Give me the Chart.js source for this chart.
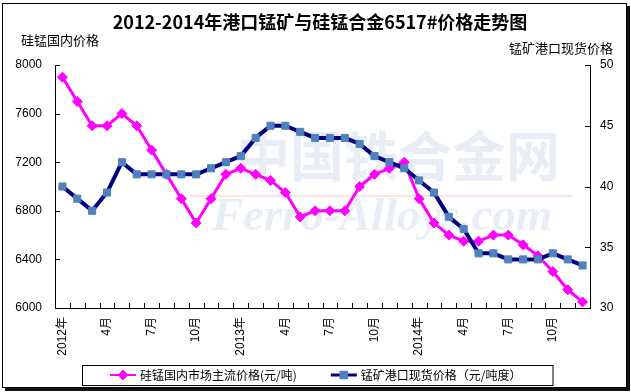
<!DOCTYPE html>
<html>
<head>
<meta charset="utf-8">
<script src="https://cdn.jsdelivr.net/npm/chart.js@4.4.1/dist/chart.umd.min.js"></script>
<style>
  html, body { margin: 0; padding: 0; background: #fff; }
  #wrap { position: relative; width: 631px; height: 392px; overflow: hidden; }
  #frame { position: absolute; left: 2px; top: 3px; width: 623px; height: 383px; border: 1px solid #000; box-shadow: 3px 3px 0 #111; background: #fff; }
  #c { position: absolute; left: 0; top: 0; }
</style>
</head>
<body>
<div id="wrap"><div id="frame"></div><canvas id="c" width="631" height="392"></canvas></div>
<script>
/****************************** data ********************************/
const months = [
    "2012-01", "2012-02", "2012-03", "2012-04", "2012-05", "2012-06", "2012-07", "2012-08", "2012-09", "2012-10", "2012-11", "2012-12",
    "2013-01", "2013-02", "2013-03", "2013-04", "2013-05", "2013-06", "2013-07", "2013-08", "2013-09", "2013-10", "2013-11", "2013-12",
    "2014-01", "2014-02", "2014-03", "2014-04", "2014-05", "2014-06", "2014-07", "2014-08", "2014-09", "2014-10", "2014-11", "2014-12"
];
const tickLabels = [
    "2012年", "", "", "4月", "", "", "7月", "", "", "10月", "", "",
    "2013年", "", "", "4月", "", "", "7月", "", "", "10月", "", "",
    "2014年", "", "", "4月", "", "", "7月", "", "", "10月", "", ""
];
// 硅锰国内市场主流价格 (元/吨), left axis
const siMnPrice = [
    7900, 7700, 7500, 7500, 7600, 7500, 7300, 7100, 6900, 6700, 6900, 7100,
    7150, 7100, 7050, 6950, 6750, 6800, 6800, 6800, 7000, 7100, 7150, 7200,
    6900, 6700, 6600, 6550, 6550, 6600, 6600, 6520, 6430, 6300, 6150, 6050
];
// 锰矿港口现货价格 (元/吨度), right axis
const orePrice = [
    40, 39, 38, 39.5, 42, 41, 41, 41, 41, 41, 41.5, 42,
    42.5, 44, 45, 45, 44.5, 44, 44, 44, 43.5, 42.5, 42, 41.5,
    40.5, 39.5, 37.5, 36.5, 34.5, 34.5, 34, 34, 34, 34.5, 34, 33.5
];
const seriesNames = ["硅锰国内市场主流价格(元/吨)", "锰矿港口现货价格（元/吨度）"];

const chartTitle = "2012-2014年港口锰矿与硅锰合金6517#价格走势图";
const leftTitle = "硅锰国内价格";
const rightTitle = "锰矿港口现货价格";

const numFont = '"Liberation Sans", Arial, sans-serif';
const cjkFont = '"Liberation Sans", "Noto Sans CJK SC", sans-serif';

/****************************** decorations ********************************/
const decor = {
    id: "decor",
    beforeDatasetsDraw(chart) {
        // faint watermark
        const ctx = chart.ctx;
        ctx.save();
        ctx.textAlign = "center";
        ctx.textBaseline = "middle";
        ctx.fillStyle = "rgba(186, 202, 226, 0.32)";
        ctx.font = 'bold 54px "Noto Sans CJK SC"';
        ctx.fillText("中国铁合金网", 398, 156);
        ctx.strokeStyle = "rgba(235, 170, 150, 0.3)";
        ctx.lineWidth = 2;
        ctx.beginPath();
        ctx.moveTo(190, 196);
        ctx.lineTo(572, 196);
        ctx.stroke();
        ctx.fillStyle = "rgba(186, 202, 226, 0.32)";
        ctx.font = 'bold italic 47px "Liberation Serif"';
        ctx.fillText("Ferro-Alloys.com", 382, 218);
        ctx.restore();
    },
    afterDraw(chart) {
        const ctx = chart.ctx;
        const x = chart.scales.x, yl = chart.scales.y, yr = chart.scales.y1;
        const area = chart.chartArea;
        ctx.save();

        // inward tick marks
        ctx.strokeStyle = "#000";
        ctx.lineWidth = 1;
        ctx.beginPath();
        for (let i = 0; i <= months.length; i++) {
            const px = Math.round(x.getPixelForValue(i - 0.5)) + 0.5;
            ctx.moveTo(px, area.bottom);
            ctx.lineTo(px, area.bottom - 5);
        }
        yl.ticks.forEach(t => {
            const py = Math.round(yl.getPixelForValue(t.value)) + 0.5;
            ctx.moveTo(area.left, py);
            ctx.lineTo(area.left + 5, py);
        });
        yr.ticks.forEach(t => {
            const py = Math.round(yr.getPixelForValue(t.value)) + 0.5;
            ctx.moveTo(area.right, py);
            ctx.lineTo(area.right - 5, py);
        });
        ctx.stroke();

        // titles
        ctx.fillStyle = "#000";
        ctx.textBaseline = "middle";
        ctx.textAlign = "center";
        ctx.font = 'bold 18px "Noto Sans CJK SC"';
        ctx.fillText(chartTitle, 320, 22);
        ctx.font = '13px "Noto Sans CJK SC"';
        ctx.textAlign = "left";
        ctx.fillText(leftTitle, 21, 40);
        ctx.textAlign = "right";
        ctx.fillText(rightTitle, 613, 48);

        // legend with line + marker, framed
        ctx.font = '12px "Noto Sans CJK SC"';
        const lineLen = 26, textGap = 4, itemGap = 34, ly = 375;
        const sets = chart.data.datasets;
        const widths = sets.map(ds => lineLen + textGap + ctx.measureText(ds.label).width);
        const total = widths.reduce((a, b) => a + b, 0) + itemGap * (sets.length - 1);
        let lx = Math.round(chart.width / 2 - total / 2);
        const boxLeft = lx - 28, boxRight = lx + total + 31;
        ctx.strokeStyle = "#000";
        ctx.lineWidth = 1;
        ctx.strokeRect(boxLeft + 0.5, 365.5, boxRight - boxLeft, 20);
        sets.forEach((ds, i) => {
            ctx.strokeStyle = ds.borderColor;
            ctx.lineWidth = ds.borderWidth - 1;
            ctx.beginPath();
            ctx.moveTo(lx, ly);
            ctx.lineTo(lx + lineLen, ly);
            ctx.stroke();
            ctx.fillStyle = ds.pointBackgroundColor;
            ctx.strokeStyle = ds.pointBorderColor;
            Chart.helpers.drawPoint(ctx, {
                pointStyle: ds.pointStyle, radius: 4, rotation: 0, borderWidth: 1
            }, lx + lineLen / 2, ly);
            ctx.fillStyle = "#000";
            ctx.textAlign = "left";
            ctx.fillText(ds.label, lx + lineLen + textGap, ly);
            lx += widths[i] + itemGap;
        });
        ctx.restore();
    }
};

/****************************** chart ********************************/
new Chart("c", {
    type: "line",
    data: {
        labels: months,
        datasets: [{
            label: seriesNames[0],
            data: siMnPrice,
            yAxisID: "y",
            order: 1,
            borderColor: "#FF00FF",
            borderWidth: 3,
            pointStyle: "rectRot",
            pointRadius: 5,
            pointBackgroundColor: "#FF00FF",
            pointBorderColor: "#FF00FF",
            pointBorderWidth: 1,
            borderJoinStyle: "round",
            tension: 0
        }, {
            label: seriesNames[1],
            data: orePrice,
            yAxisID: "y1",
            order: 0,
            borderColor: "#000080",
            borderWidth: 4,
            pointStyle: "rect",
            pointRadius: 5,
            pointBackgroundColor: "#4F81BD",
            pointBorderColor: "#4F81BD",
            pointBorderWidth: 1,
            borderJoinStyle: "round",
            tension: 0
        }]
    },
    options: {
        responsive: false,
        animation: false,
        layout: { padding: { top: 65, bottom: 24, left: 0, right: 0 } },
        plugins: {
            legend: { display: false },
            title: { display: false },
            tooltip: { enabled: false }
        },
        scales: {
            x: {
                offset: true,
                grid: { display: false, drawTicks: false, offset: true },
                border: { display: true, color: "#000", width: 1 },
                ticks: {
                    autoSkip: false,
                    minRotation: 90,
                    maxRotation: 90,
                    padding: 9,
                    color: "#000",
                    font: { family: cjkFont, size: 12 },
                    callback: (v, i) => tickLabels[i]
                },
                afterFit: s => { s.height = 60; }
            },
            y: {
                position: "left",
                min: 6000,
                max: 8000,
                grid: { display: false, drawTicks: false },
                border: { display: true, color: "#000", width: 1 },
                ticks: {
                    stepSize: 400, padding: 13, color: "#000",
                    font: { family: numFont, size: 12 },
                    callback: v => String(v)
                },
                afterFit: s => { s.width = 55; }
            },
            y1: {
                position: "right",
                min: 30,
                max: 50,
                grid: { display: false, drawTicks: false },
                border: { display: true, color: "#000", width: 1 },
                ticks: {
                    stepSize: 5, padding: 10, color: "#000",
                    font: { family: numFont, size: 12 },
                    callback: v => String(v)
                },
                afterFit: s => { s.width = 41; }
            }
        }
    },
    plugins: [decor]
});
</script>
</body>
</html>
